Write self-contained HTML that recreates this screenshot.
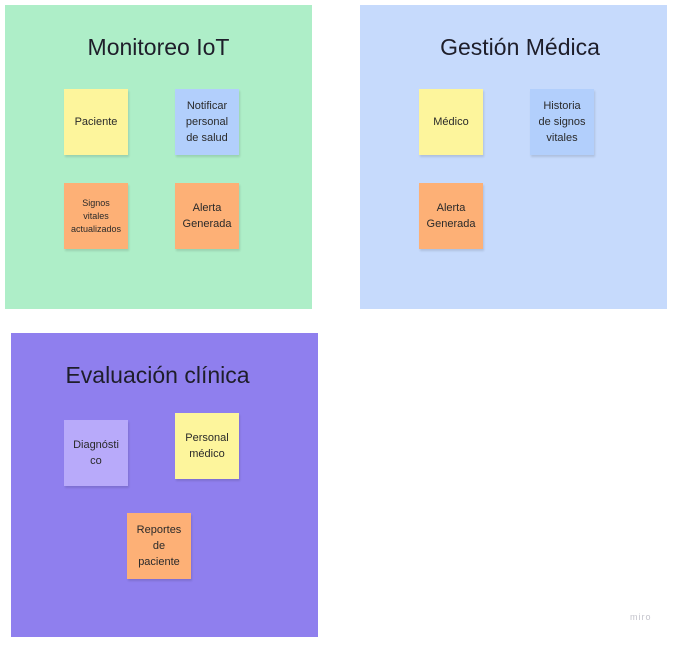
<!DOCTYPE html>
<html><head><meta charset="utf-8"><style>
html,body{margin:0;padding:0;background:#fff;width:674px;height:650px;overflow:hidden;position:relative;font-family:"Liberation Sans","DejaVu Sans",sans-serif;}
.f{position:absolute;}
.t{position:absolute;text-align:center;font-size:23px;color:#1e1e2a;}
.s{position:absolute;width:64px;height:66px;display:flex;align-items:center;justify-content:center;text-align:center;font-size:11px;line-height:16px;color:#2a2a2a;box-shadow:1px 2px 2px rgba(0,0,0,0.12);}
.y{background:#fdf59c;}.o{background:#fdb076;}.b{background:#b2cffc;}.l{background:#b8aafa;}
</style></head><body>
<div class="f" style="left:5px;top:5px;width:307px;height:304px;background:#aeeec8;"></div>
<div class="t" style="left:5px;width:307px;top:34px;">Monitoreo IoT</div>
<div class="s y" style="left:64px;top:89px;">Paciente</div>
<div class="s b" style="left:175px;top:89px;">Notificar<br>personal<br>de salud</div>
<div class="s o" style="left:64px;top:183px;font-size:9px;line-height:13px;">Signos<br>vitales<br>actualizados</div>
<div class="s o" style="left:175px;top:183px;">Alerta<br>Generada</div>

<div class="f" style="left:360px;top:5px;width:307px;height:304px;background:#c6dafc;"></div>
<div class="t" style="left:360px;width:320px;top:34px;">Gestión Médica</div>
<div class="s y" style="left:419px;top:89px;">Médico</div>
<div class="s b" style="left:530px;top:89px;">Historia<br>de signos<br>vitales</div>
<div class="s o" style="left:419px;top:183px;">Alerta<br>Generada</div>

<div class="f" style="left:11px;top:333px;width:307px;height:304px;background:#8f7fee;"></div>
<div class="t" style="left:4px;width:307px;top:362px;">Evaluación clínica</div>
<div class="s l" style="left:64px;top:420px;">Diagnósti<br>co</div>
<div class="s y" style="left:175px;top:413px;">Personal<br>médico</div>
<div class="s o" style="left:127px;top:513px;">Reportes<br>de<br>paciente</div>

<div style="position:absolute;left:630px;top:612px;font-size:9px;color:#c4c4cc;letter-spacing:1px;">miro</div>
</body></html>
